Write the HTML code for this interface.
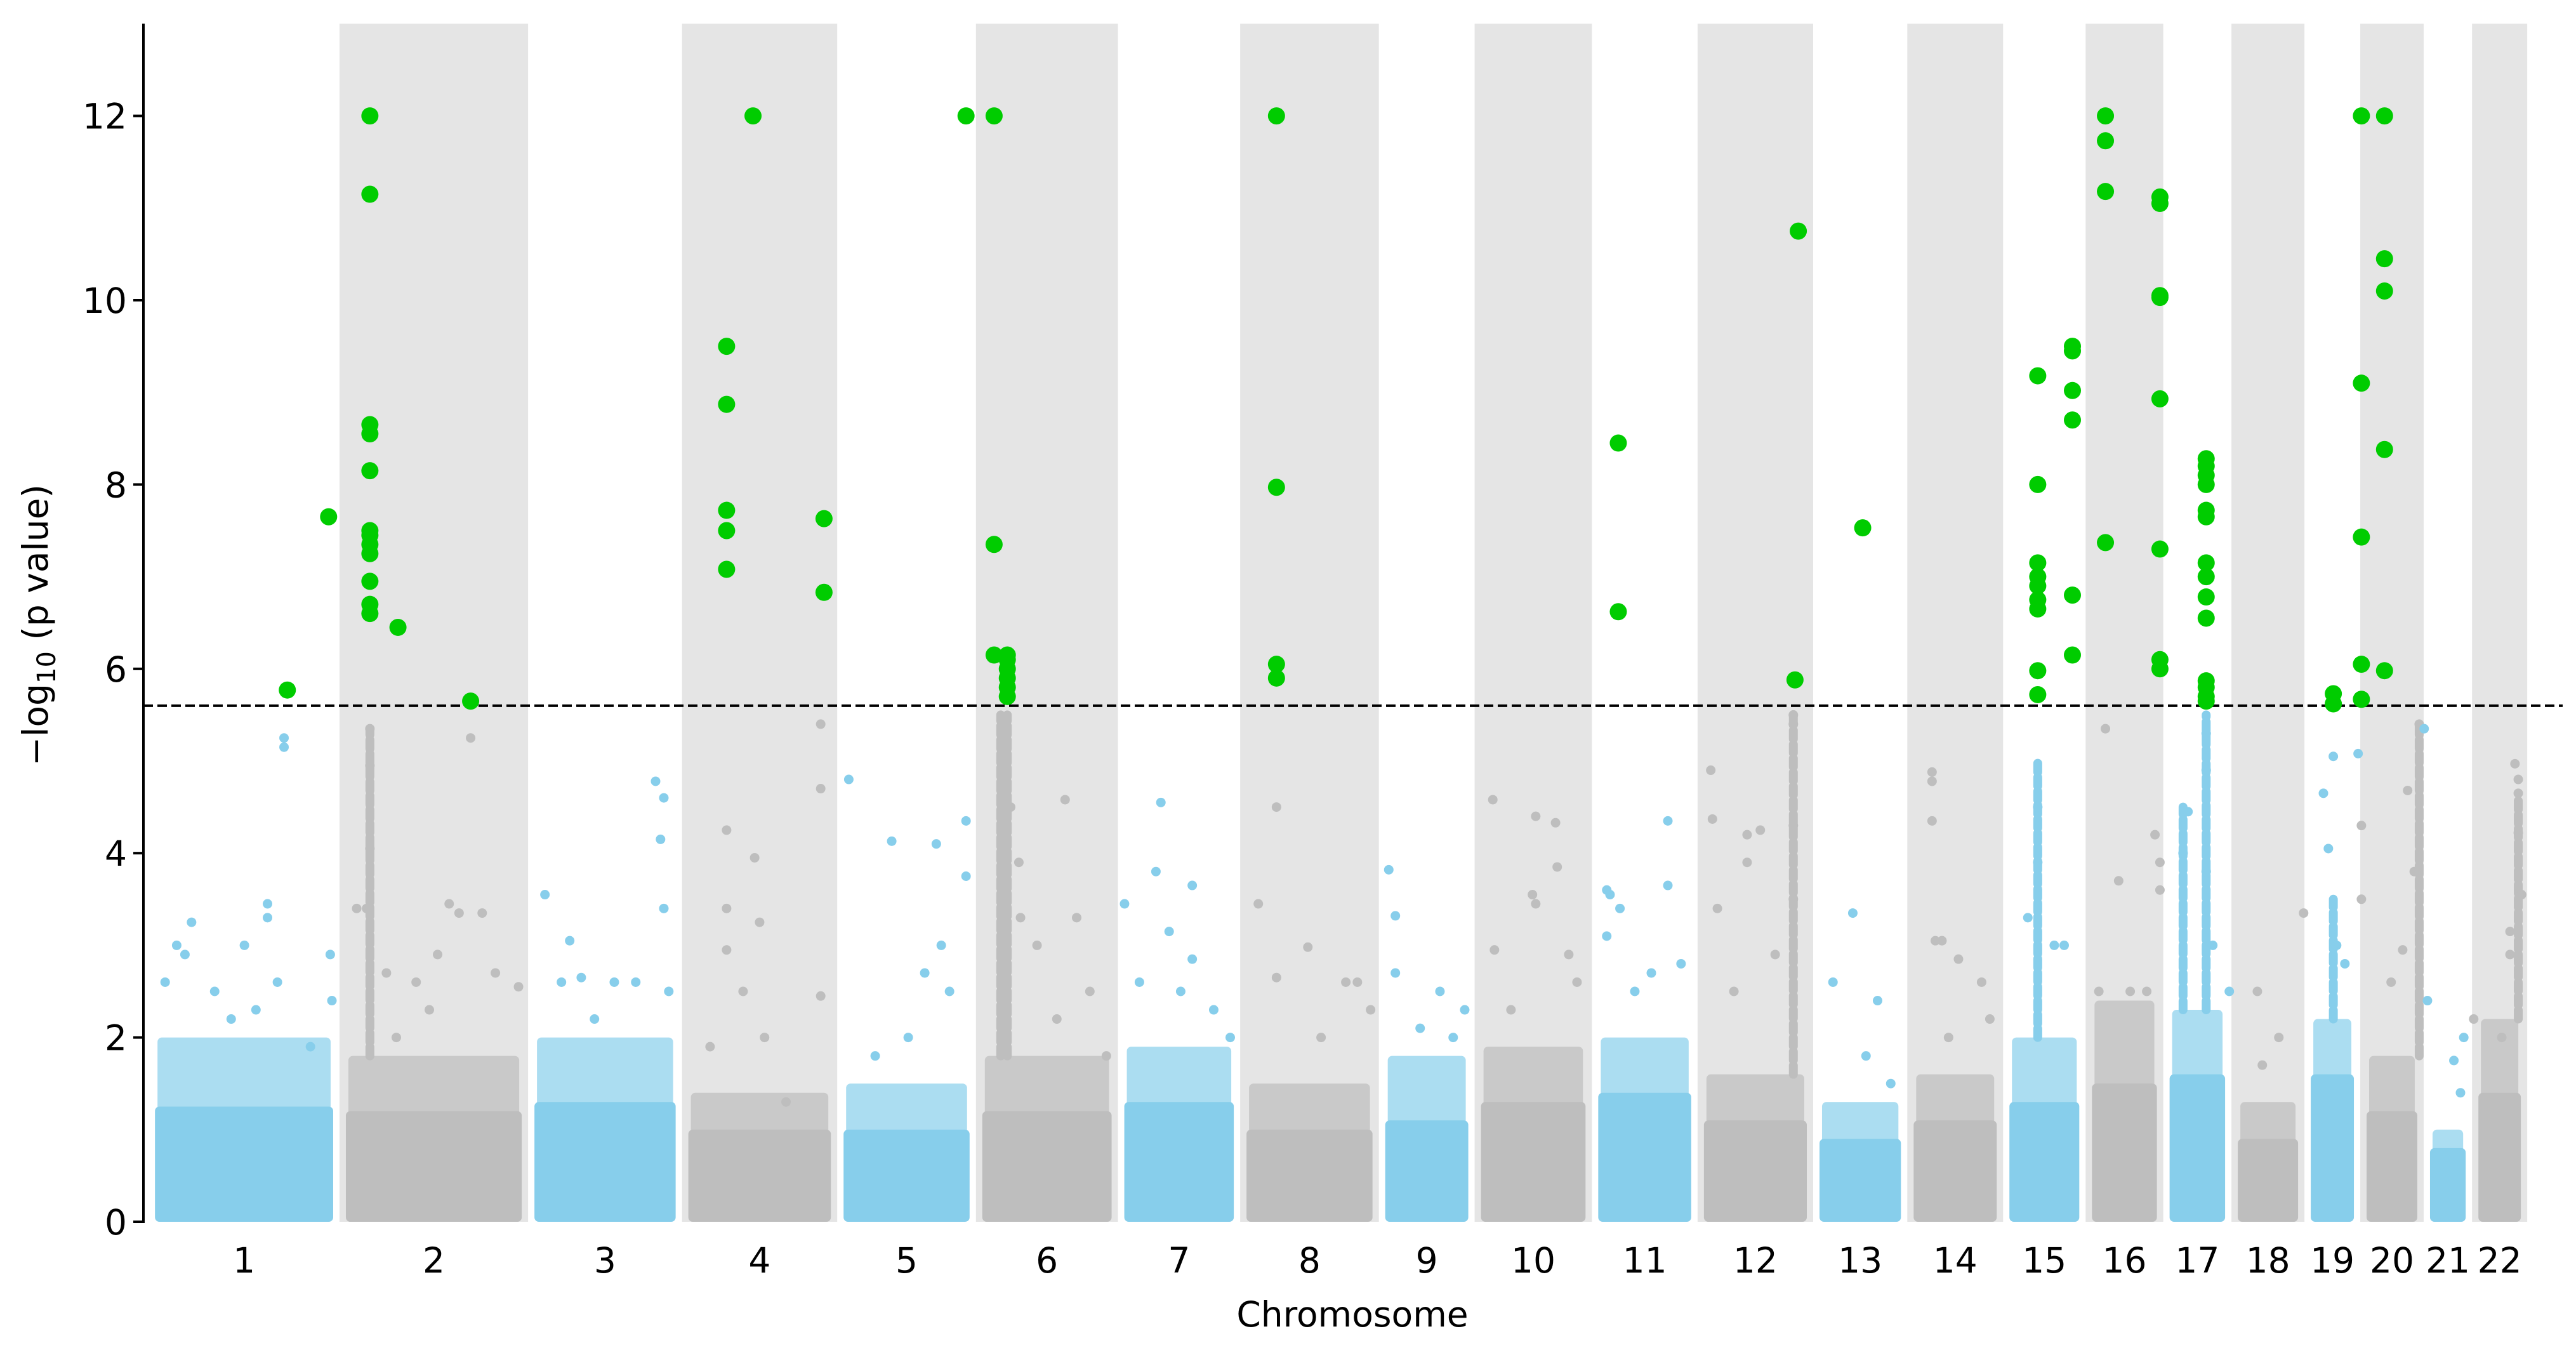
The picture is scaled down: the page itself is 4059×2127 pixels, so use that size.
<!DOCTYPE html>
<html><head><meta charset="utf-8">
<style>
html,body{margin:0;padding:0;background:#fff;}
svg{display:block;font-family:"DejaVu Sans","Liberation Sans",sans-serif;}
</style></head>
<body>
<svg id="chart" xmlns="http://www.w3.org/2000/svg" width="4059" height="2127" viewBox="0 0 4059 2127">
<g id="bands"></g>
<g id="bodies"></g>
<g id="pts"></g>
<line id="thr" stroke="#000" stroke-width="4" stroke-dasharray="15,7"/>
<g id="hits"></g>
<g id="axes"></g>
<text x="2131" y="2090" font-size="55" text-anchor="middle">Chromosome</text>
<text transform="translate(75,985) rotate(-90)" font-size="55" text-anchor="middle">−log<tspan font-size="40" dy="12">10</tspan><tspan dy="-12"> (p value)</tspan></text>
</svg>
<script>
// chromosome boundaries (genomic axis units)
const chromBounds = [90,205.6,319.8,413,507,591,677,751,835,893,964,1028,1098,1155,1213,1263,1310,1351.3,1395.5,1429.3,1467.7,1497,1530.4];
const chromLabels = ["1","2","3","4","5","6","7","8","9","10","11","12","13","14","15","16","17","18","19","20","21","22"];
const solidTop = [1.25,1.2,1.3,1.0,1.0,1.2,1.3,1.0,1.1,1.3,1.4,1.1,0.9,1.1,1.3,1.5,1.6,0.9,1.6,1.2,0.8,1.4];
const fringeTop = [2.0,1.8,2.0,1.4,1.5,1.8,1.9,1.5,1.8,1.9,2.0,1.6,1.3,1.6,2.0,2.4,2.3,1.3,2.2,1.8,1.0,2.2];
const yTicks = [0,2,4,6,8,10,12];
const threshold = 5.6;
// dense vertical streaks: position, top value
const streakPos = [224,606,610,1086,1234,1322,1336,1413,1465,1525];
const streakTop = [5.35,5.5,5.5,5.5,5.0,4.5,5.5,3.5,5.4,4.6];
// background SNPs: position, -log10 p
const bgPos = [107,116,148,162,162,172,172,200,201,130,100,112,140,155,168,188,
216,224,224,224,222,234,252,265,272,278,285,292,300,314,240,260,
330,345,352,372,385,397,402,400,402,405,340,360,
440,440,440,457,460,463,476,497,497,497,430,450,
514,540,567,570,585,585,575,550,530,560,
612,617,618,645,652,628,660,640,670,
681,703,700,708,722,722,735,745,690,715,
762,773,773,792,815,822,800,830,
841,845,845,860,872,887,880,
904,905,928,930,930,942,943,955,915,950,
973,973,975,981,1000,1010,1010,1018,990,
1036,1037,1040,1058,1058,1066,1086,1086,1086,1086,1050,1075,
1110,1122,1130,1137,1145,
1170,1170,1170,1172,1176,1186,1200,1205,1180,
1234,1234,1244,1250,1228,
1275,1271,1283,1290,1305,1308,1308,1300,
1325,1322,1336,1336,1336,1340,1350,
1367,1395,1380,1370,
1407,1410,1413,1428,1430,1430,1415,1420,
1458,1462,1465,1468,1455,1448,1470,
1486,1492,1498,1490,
1523,1525,1525,1525,1527,1520,1520,1515];
const bgVal = [3.0,3.25,3.0,3.45,3.3,5.25,5.15,2.9,2.4,2.5,2.6,2.9,2.2,2.3,2.6,1.9,
3.4,5.35,4.95,4.05,3.4,2.7,2.6,2.9,3.45,3.35,5.25,3.35,2.7,2.55,2.0,2.3,
3.55,3.05,2.65,2.6,2.6,4.78,4.6,4.15,3.4,2.5,2.6,2.2,
4.25,3.4,2.95,3.95,3.25,2.0,1.3,5.4,4.7,2.45,1.9,2.5,
4.8,4.13,4.1,3.0,4.35,3.75,2.5,2.0,1.8,2.7,
4.5,3.9,3.3,4.58,3.3,3.0,2.5,2.2,1.8,
3.45,4.55,3.8,3.15,3.65,2.85,2.3,2.0,2.6,2.5,
3.45,4.5,2.65,2.98,2.6,2.6,2.0,2.3,
3.82,3.32,2.7,2.1,2.5,2.3,2.0,
4.58,2.95,3.55,3.45,4.4,4.33,3.85,2.6,2.3,2.9,
3.6,3.1,3.55,3.4,2.7,3.65,4.35,2.8,2.5,
4.9,4.37,3.4,4.2,3.9,4.25,5.5,5.4,4.3,3.5,2.5,2.9,
2.6,3.35,1.8,2.4,1.5,
4.88,4.78,4.35,3.05,3.05,2.85,2.6,2.2,2.0,
4.5,3.9,3.0,3.0,3.3,
5.35,2.5,3.7,2.5,4.2,3.9,3.6,2.5,
4.45,4.0,5.3,4.9,3.8,3.0,2.5,
2.5,3.35,2.0,1.7,
4.65,4.05,5.05,5.08,4.3,3.5,3.0,2.8,
4.68,3.8,5.4,5.35,2.95,2.6,2.4,
1.75,2.0,2.2,1.4,
4.97,4.8,4.65,4.22,3.55,3.15,2.9,2.0];
// significant SNPs
const hitPos = [174,199,
224,224,224,224,224,224,224,224,224,224,224,224,241,285,
440,440,440,440,440,456,499,499,
585,602,602,602,610,610,610,610,610,610,
773,773,773,773,
980,980,1089,1087,1128,
1234,1234,1234,1234,1234,1234,1234,1234,1234,1255,1255,1255,1255,1255,1255,
1275,1275,1275,1275,1308,1308,1308,1308,1308,1308,1308,1308,
1336,1336,1336,1336,1336,1336,1336,1336,1336,1336,1336,1336,1336,1336,
1413,1413,1430,1430,1430,1430,1430,
1444,1444,1444,1444,1444];
const hitVal = [5.77,7.65,
12.0,11.15,8.65,8.55,8.15,7.5,7.45,7.35,7.25,6.95,6.7,6.6,6.45,5.65,
9.5,8.87,7.72,7.5,7.08,12.0,7.63,6.83,
12.0,12.0,7.35,6.15,6.15,6.1,6.0,5.9,5.8,5.7,
12.0,7.97,6.05,5.9,
8.45,6.62,10.75,5.88,7.53,
9.18,8.0,7.15,7.0,6.9,6.75,6.65,5.98,5.72,9.5,9.45,9.02,8.7,6.8,6.15,
12.0,11.73,11.18,7.37,11.12,11.05,10.05,10.03,8.93,7.3,6.1,6.0,
8.28,8.2,8.1,8.0,7.72,7.65,7.15,7.0,6.78,6.55,5.87,5.8,5.7,5.65,
5.73,5.62,12.0,9.1,7.43,6.05,5.67,
12.0,10.45,10.1,8.38,5.98];

const NS="http://www.w3.org/2000/svg";
const X0=226, XR=4038, YMAX=13;
function xs(u){return u*2.602;}
function ys(v){return 1925-v*145.2;}
function mk(tag,attrs,parent){const e=document.createElementNS(NS,tag);for(const k in attrs)e.setAttribute(k,attrs[k]);parent.appendChild(e);return e;}
function chromOf(p){for(let i=0;i<chromLabels.length;i++){if(p>=chromBounds[i]&&p<chromBounds[i+1])return i;}return chromLabels.length-1;}
const blue="#87ceeb", gray="#bebebe";
const bands=document.getElementById('bands'),bodies=document.getElementById('bodies'),pts=document.getElementById('pts'),hits=document.getElementById('hits'),axes=document.getElementById('axes');
for(let i=0;i<chromLabels.length;i++){
  const a=xs(chromBounds[i]),b=xs(chromBounds[i+1]);
  const col=i%2===0?blue:gray;
  if(i%2===1){
    const r=mk('rect',{x:a,y:ys(YMAX),width:b-a,height:ys(0)-ys(YMAX),fill:'#e5e5e5'},bands);
    
    
  }
  const f=mk('rect',{x:a+14,y:ys(fringeTop[i]),width:b-a-28,height:ys(0)-ys(fringeTop[i]),fill:col,opacity:0.7,rx:7},bodies);
  
  
  const s=mk('rect',{x:a+10,y:ys(solidTop[i]),width:b-a-20,height:ys(0)-ys(solidTop[i]),fill:col,rx:7},bodies);
  
  
  const t=mk('text',{x:(a+b)/2,y:2005,'font-size':55,'text-anchor':'middle'},axes);
  t.textContent=chromLabels[i];
  
  
}
for(let i=0;i<streakPos.length;i++){
  const c=chromOf(streakPos[i]);
  const l=mk('line',{x1:xs(streakPos[i]),x2:xs(streakPos[i]),y1:ys(fringeTop[c]),y2:ys(streakTop[i]),stroke:c%2===0?blue:gray,'stroke-width':14,'stroke-linecap':'round','stroke-dasharray':'14,8'},pts);
  
  
}
for(let i=0;i<bgPos.length;i++){
  const c=chromOf(bgPos[i]);
  const e=mk('circle',{cx:xs(bgPos[i]),cy:ys(bgVal[i]),r:7.5,fill:c%2===0?blue:gray},pts);
  
  
}
const thr=document.getElementById('thr');
thr.setAttribute('x1',X0);thr.setAttribute('x2',XR);thr.setAttribute('y1',ys(threshold));thr.setAttribute('y2',ys(threshold));
for(let i=0;i<hitPos.length;i++){
  const e=mk('ellipse',{cx:xs(hitPos[i]),cy:ys(hitVal[i]),rx:13.5,ry:13.5,fill:'#00cc00'},hits);
  
  
}
const ax=mk('line',{x1:X0,x2:X0,y1:ys(YMAX),y2:ys(0)+2,stroke:'#000','stroke-width':4},axes);


for(const v of yTicks){
  const tk=mk('line',{x1:X0-16,x2:X0,y1:ys(v),y2:ys(v),stroke:'#000','stroke-width':4},axes);
  
  
  const t=mk('text',{x:X0-26,y:ys(v)+20,'font-size':55,'text-anchor':'end'},axes);
  t.textContent=String(v);
  
  
}
</script>
</body></html>
